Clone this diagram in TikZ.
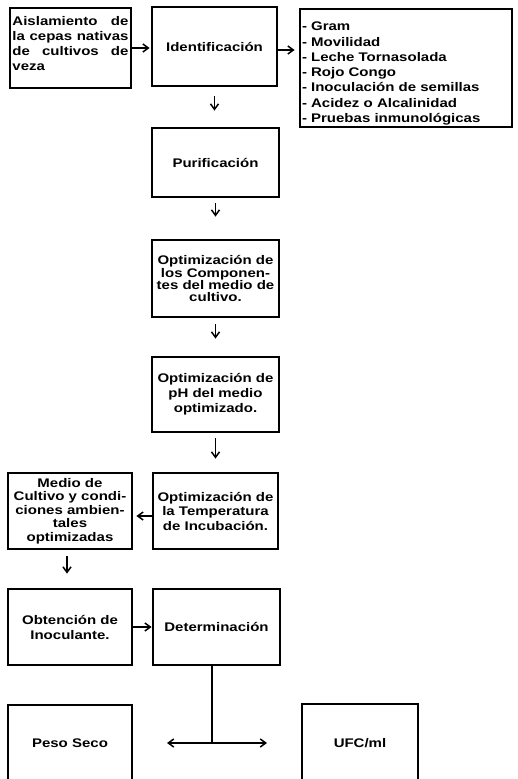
\documentclass[tikz,border=0pt]{standalone}
\usepackage{fontspec}
\newfontfamily\diafont{Liberation Sans}[FakeStretch=1.2]
\usetikzlibrary{arrows.meta}
\begin{document}
\begin{tikzpicture}[x=1pt,y=-1pt,
  every node/.style={font=\diafont\bfseries\fontsize{12.5}{15}\selectfont},
  box/.style={draw, line width=2.8pt, inner sep=1pt, align=center},
  lsp/.style={font=\diafont\bfseries\fontsize{12.5}{#1}\selectfont},
  conn/.style={line width=1.5pt, -{Straight Barb[length=5.5pt,width=8pt]}},
  plainline/.style={line width=1.5pt}]
\useasboundingbox (0,0) rectangle (518,779);
\clip (0,0) rectangle (518,779);

\node[box, inner sep=0pt, minimum width=121, minimum height=80] (ais) at (70.5,48)
  {\parbox[c][74pt][t]{116pt}{\vspace{5pt}%
   \makebox[\linewidth][s]{Aislamiento de}\\
   \makebox[\linewidth][s]{la cepas nativas}\\
   \makebox[\linewidth][s]{de cultivos de}\\
   veza}};
\node[box, minimum width=125, minimum height=79] (ident) at (214.5,46.5) {Identificación};
\node[box, inner sep=0pt, minimum width=212, minimum height=118] (list) at (406,68)
  {\parbox[c][114pt][t]{208pt}{\fontsize{12.5}{15.3}\selectfont\raggedright\vspace{11pt}%
   - Gram\\
   - Movilidad\\
   - Leche Tornasolada\\
   - Rojo Congo\\
   - Inoculación de semillas\\
   - Acidez o Alcalinidad\\
   - Pruebas inmunológicas}};
\node[box, minimum width=127, minimum height=69] (purif) at (215.5,162.5) {Purificación};
\node[box, lsp=11.5, minimum width=127, minimum height=77] (opt1) at (215.5,278.5)
  {Optimización de\\los Componen-\\tes del medio de\\cultivo.};
\node[box, lsp=15, minimum width=127, minimum height=75] (opt2) at (215.5,394.5)
  {Optimización de\\pH del medio\\optimizado.};
\node[box, lsp=14.5, minimum width=125, minimum height=76] (temp) at (215.5,511)
  {Optimización de\\la Temperatura\\de Incubación.};
\node[box, lsp=13.5, minimum width=124, minimum height=76] (medio) at (70,511)
  {Medio de\\Cultivo y condi-\\ciones ambien-\\tales\\optimizadas};
\node[box, minimum width=124, minimum height=76] (obt) at (70,627) {Obtención de\\Inoculante.};
\node[box, minimum width=127, minimum height=76] (det) at (216.5,627) {Determinación};
\node[box, minimum width=124, minimum height=77] (peso) at (70,743.5) {Peso Seco};
\node[box, minimum width=116, minimum height=78] (ufc) at (360,743) {UFC/ml};

\draw[conn, shorten >=1pt] (ais.east) -- (ais.east -| ident.west);
\draw[conn, shorten >=4pt] ([yshift=-3.5pt]ident.east) -- ([yshift=-3.5pt]ident.east -| list.west);
\draw[conn, shorten <=9pt, shorten >=16pt] (ident.south) -- (ident.south |- purif.north);
\draw[conn, shorten <=5pt, shorten >=22pt] (purif.south) -- (opt1.north);
\draw[conn, shorten <=6pt, shorten >=17pt] (opt1.south) -- (opt2.north);
\draw[conn, shorten <=5pt, shorten >=13pt] (opt2.south) -- (opt2.south |- temp.north);
\draw[conn, shorten >=3pt] ([yshift=-5pt]temp.west) -- ([yshift=-5pt]temp.west -| medio.east);
\draw[conn, shorten <=6pt, shorten >=14pt] ([xshift=-3pt]medio.south) -- ([xshift=-3pt]obt.north);
\draw[conn] (obt.east) -- (det.west);
\coordinate (j) at (212,743);
\coordinate (pl) at (167,743);
\coordinate (pr) at (267,743);
\draw[plainline] (det.south -| j) -- (j);
\draw[conn] (j) -- (pl);
\draw[conn] (j) -- (pr);
\end{tikzpicture}
\end{document}
